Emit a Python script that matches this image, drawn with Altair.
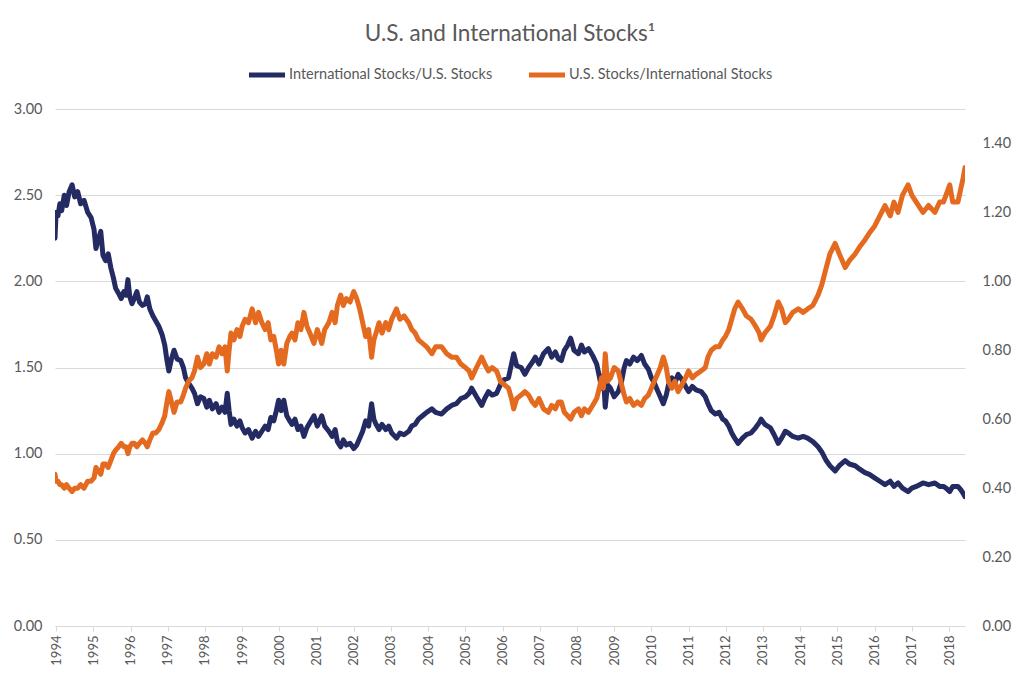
import altair as alt
import pandas as pd

title_text = "U.S. and International Stocks\u00b9"
series_names = ["International Stocks/U.S. Stocks", "U.S. Stocks/International Stocks"]
series_colors = ["#242B63", "#E46A1F"]

years = [
    1993.97, 1994.00, 1994.05, 1994.10, 1994.15, 1994.22, 1994.28, 1994.35, 1994.43, 1994.50,
    1994.58, 1994.66, 1994.75, 1994.85, 1994.94, 1995.02, 1995.07, 1995.13, 1995.20, 1995.26,
    1995.33, 1995.40, 1995.47, 1995.54, 1995.60, 1995.68, 1995.75, 1995.82, 1995.88, 1995.93,
    1995.98, 1996.04, 1996.10, 1996.17, 1996.24, 1996.32, 1996.40, 1996.45, 1996.52, 1996.60,
    1996.68, 1996.76, 1996.85, 1996.92, 1996.98, 1997.03, 1997.10, 1997.17, 1997.25, 1997.35,
    1997.42, 1997.48, 1997.56, 1997.65, 1997.72, 1997.80, 1997.88, 1997.97, 1998.05, 1998.12,
    1998.20, 1998.30, 1998.38, 1998.46, 1998.54, 1998.60, 1998.65, 1998.70, 1998.78, 1998.86,
    1998.94, 1999.00, 1999.08, 1999.17, 1999.27, 1999.36, 1999.44, 1999.53, 1999.62, 1999.70,
    1999.77, 1999.85, 1999.92, 1999.98, 2000.05, 2000.12, 2000.20, 2000.28, 2000.34, 2000.42,
    2000.50, 2000.58, 2000.66, 2000.74, 2000.82, 2000.93, 2001.02, 2001.08, 2001.14, 2001.22,
    2001.33, 2001.42, 2001.50, 2001.56, 2001.65, 2001.72, 2001.80, 2001.90, 2002.00, 2002.08,
    2002.16, 2002.24, 2002.32, 2002.40, 2002.48, 2002.54, 2002.60, 2002.68, 2002.76, 2002.86,
    2002.94, 2003.02, 2003.15, 2003.24, 2003.35, 2003.48, 2003.56, 2003.65, 2003.74, 2003.85,
    2003.96, 2004.10, 2004.20, 2004.36, 2004.50, 2004.63, 2004.76, 2004.88, 2005.00, 2005.10,
    2005.17, 2005.30, 2005.44, 2005.52, 2005.62, 2005.72, 2005.84, 2005.94, 2006.05, 2006.16,
    2006.24, 2006.30, 2006.38, 2006.50, 2006.60, 2006.70, 2006.80, 2006.88, 2006.98, 2007.10,
    2007.23, 2007.32, 2007.42, 2007.50, 2007.58, 2007.66, 2007.75, 2007.83, 2007.92, 2008.04,
    2008.12, 2008.20, 2008.31, 2008.42, 2008.53, 2008.60, 2008.66, 2008.71, 2008.76, 2008.82,
    2008.90, 2009.00, 2009.11, 2009.20, 2009.27, 2009.33, 2009.42, 2009.52, 2009.62, 2009.73,
    2009.82, 2009.92, 2010.00, 2010.08, 2010.16, 2010.24, 2010.32, 2010.40, 2010.46, 2010.55,
    2010.63, 2010.72, 2010.82, 2010.92, 2011.00, 2011.10, 2011.20, 2011.34, 2011.45, 2011.52,
    2011.61, 2011.72, 2011.82, 2011.92, 2011.99, 2012.08, 2012.16, 2012.24, 2012.33, 2012.45,
    2012.55, 2012.68, 2012.80, 2012.90, 2012.95, 2013.05, 2013.20, 2013.30, 2013.41, 2013.50,
    2013.60, 2013.68, 2013.80, 2013.95, 2014.08, 2014.20, 2014.34, 2014.48, 2014.58, 2014.70,
    2014.80, 2014.94, 2015.05, 2015.21, 2015.32, 2015.48, 2015.60, 2015.74, 2015.86, 2016.00,
    2016.14, 2016.28, 2016.42, 2016.52, 2016.63, 2016.75, 2016.90, 2017.00, 2017.12, 2017.30,
    2017.45, 2017.62, 2017.75, 2017.85, 2017.92, 2018.02, 2018.10, 2018.24, 2018.32, 2018.38,
    2018.43,
]

intl_over_us = [
    2.25, 2.40, 2.38, 2.45, 2.41, 2.50, 2.44, 2.52, 2.56, 2.49,
    2.52, 2.45, 2.47, 2.40, 2.37, 2.30, 2.19, 2.24, 2.29, 2.15,
    2.12, 2.16, 2.08, 2.02, 1.96, 1.93, 1.90, 1.94, 1.92, 2.01,
    1.91, 1.87, 1.90, 1.94, 1.88, 1.86, 1.87, 1.91, 1.84, 1.80,
    1.77, 1.74, 1.69, 1.63, 1.54, 1.48, 1.55, 1.60, 1.55, 1.54,
    1.50, 1.44, 1.41, 1.38, 1.35, 1.29, 1.33, 1.32, 1.27, 1.31,
    1.26, 1.29, 1.24, 1.27, 1.24, 1.35, 1.25, 1.17, 1.20, 1.16,
    1.19, 1.15, 1.12, 1.14, 1.09, 1.13, 1.10, 1.13, 1.16, 1.14,
    1.21, 1.19, 1.25, 1.31, 1.25, 1.31, 1.22, 1.19, 1.17, 1.20,
    1.14, 1.16, 1.10, 1.15, 1.18, 1.22, 1.16, 1.19, 1.22, 1.16,
    1.13, 1.10, 1.14, 1.07, 1.04, 1.08, 1.05, 1.06, 1.03, 1.05,
    1.09, 1.13, 1.19, 1.16, 1.29, 1.20, 1.17, 1.14, 1.17, 1.14,
    1.16, 1.12, 1.09, 1.12, 1.11, 1.13, 1.16, 1.17, 1.20, 1.22,
    1.24, 1.26, 1.24, 1.23, 1.26, 1.28, 1.29, 1.32, 1.33, 1.35,
    1.38, 1.33, 1.28, 1.32, 1.36, 1.34, 1.35, 1.40, 1.43, 1.44,
    1.52, 1.58, 1.51, 1.50, 1.46, 1.50, 1.53, 1.56, 1.52, 1.58,
    1.61, 1.56, 1.59, 1.55, 1.54, 1.60, 1.63, 1.67, 1.60, 1.58,
    1.63, 1.59, 1.61, 1.57, 1.52, 1.45, 1.38, 1.45, 1.27, 1.40,
    1.38, 1.33, 1.36, 1.42, 1.50, 1.54, 1.52, 1.56, 1.54, 1.57,
    1.52, 1.49, 1.44, 1.41, 1.37, 1.33, 1.29, 1.34, 1.40, 1.44,
    1.41, 1.46, 1.43, 1.39, 1.36, 1.39, 1.37, 1.36, 1.33, 1.29,
    1.25, 1.23, 1.24, 1.20, 1.19, 1.16, 1.12, 1.09, 1.06, 1.09,
    1.11, 1.12, 1.15, 1.18, 1.20, 1.17, 1.15, 1.11, 1.06, 1.09,
    1.13, 1.12, 1.10, 1.09, 1.10, 1.09, 1.07, 1.04, 1.01, 0.96,
    0.93, 0.90, 0.93, 0.96, 0.94, 0.93, 0.91, 0.89, 0.88, 0.86,
    0.84, 0.82, 0.84, 0.81, 0.83, 0.80, 0.78, 0.80, 0.81, 0.83,
    0.82, 0.83, 0.81, 0.81, 0.80, 0.78, 0.81, 0.81, 0.79, 0.77,
    0.75,
]

us_over_intl = [
    0.44, 0.42, 0.42, 0.41, 0.41, 0.40, 0.41, 0.40, 0.39, 0.40,
    0.40, 0.41, 0.40, 0.42, 0.42, 0.43, 0.46, 0.45, 0.44, 0.47,
    0.47, 0.46, 0.48, 0.50, 0.51, 0.52, 0.53, 0.52, 0.52, 0.50,
    0.52, 0.53, 0.53, 0.52, 0.53, 0.54, 0.53, 0.52, 0.54, 0.56,
    0.56, 0.57, 0.59, 0.61, 0.65, 0.68, 0.65, 0.62, 0.65, 0.65,
    0.67, 0.69, 0.71, 0.72, 0.74, 0.78, 0.75, 0.76, 0.79, 0.76,
    0.79, 0.78, 0.81, 0.79, 0.81, 0.74, 0.80, 0.85, 0.83, 0.86,
    0.84, 0.87, 0.89, 0.88, 0.92, 0.88, 0.91, 0.88, 0.86, 0.88,
    0.83, 0.84, 0.80, 0.76, 0.80, 0.76, 0.82, 0.84, 0.85, 0.83,
    0.88, 0.86, 0.91, 0.87, 0.85, 0.82, 0.86, 0.84, 0.82, 0.86,
    0.88, 0.91, 0.88, 0.93, 0.96, 0.93, 0.95, 0.94, 0.97, 0.95,
    0.92, 0.88, 0.84, 0.86, 0.78, 0.83, 0.85, 0.88, 0.85, 0.88,
    0.86, 0.89, 0.92, 0.89, 0.90, 0.88, 0.86, 0.85, 0.83, 0.82,
    0.81, 0.79, 0.81, 0.81, 0.79, 0.78, 0.78, 0.76, 0.75, 0.74,
    0.72, 0.75, 0.78, 0.76, 0.74, 0.75, 0.74, 0.71, 0.70, 0.69,
    0.66, 0.63, 0.66, 0.67, 0.68, 0.67, 0.65, 0.64, 0.66, 0.63,
    0.62, 0.64, 0.63, 0.65, 0.65, 0.62, 0.61, 0.60, 0.62, 0.63,
    0.61, 0.63, 0.62, 0.64, 0.66, 0.69, 0.72, 0.69, 0.79, 0.71,
    0.72, 0.75, 0.74, 0.70, 0.67, 0.65, 0.66, 0.64, 0.65, 0.64,
    0.66, 0.67, 0.69, 0.71, 0.73, 0.75, 0.78, 0.75, 0.71, 0.69,
    0.71, 0.68, 0.70, 0.72, 0.74, 0.72, 0.73, 0.74, 0.75, 0.78,
    0.80, 0.81, 0.81, 0.83, 0.84, 0.86, 0.89, 0.92, 0.94, 0.92,
    0.90, 0.89, 0.87, 0.85, 0.83, 0.85, 0.87, 0.90, 0.94, 0.92,
    0.88, 0.89, 0.91, 0.92, 0.91, 0.92, 0.93, 0.96, 0.99, 1.04,
    1.08, 1.11, 1.08, 1.04, 1.06, 1.08, 1.10, 1.12, 1.14, 1.16,
    1.19, 1.22, 1.19, 1.23, 1.20, 1.25, 1.28, 1.25, 1.23, 1.20,
    1.22, 1.20, 1.23, 1.23, 1.25, 1.28, 1.23, 1.23, 1.27, 1.30,
    1.33,
]

x_ticks = list(range(1994, 2019))
left_ticks = [0.0, 0.5, 1.0, 1.5, 2.0, 2.5, 3.0]
right_ticks = [0.0, 0.2, 0.4, 0.6, 0.8, 1.0, 1.2, 1.4]

n = min(len(years), len(intl_over_us), len(us_over_intl))
df = pd.DataFrame({
    "t": years[:n] + years[:n],
    "v": intl_over_us[:n] + us_over_intl[:n],
    "s": [series_names[0]] * n + [series_names[1]] * n,
})

FONT = "Lato"
GRAY = "#595959"
LINE = "#d9d9d9"

base = alt.Chart(df).encode(
    x=alt.X(
        "t:Q",
        scale=alt.Scale(domain=[1993.97, 2018.43], nice=False, zero=False),
        axis=alt.Axis(
            values=x_ticks, format="d", labelAngle=270, title=None, grid=False,
            tickSize=5, labelPadding=4, labelFontSize=13,
        ),
    ),
    color=alt.Color(
        "s:N",
        scale=alt.Scale(domain=series_names, range=series_colors),
        legend=alt.Legend(
            title=None, orient="none", legendX=191, legendY=-55,
            direction="horizontal", symbolType="stroke", symbolStrokeWidth=5,
            symbolSize=1300, labelFontSize=14.5, labelColor=GRAY, labelFont=FONT,
            labelLimit=300, columnPadding=25, labelOffset=1,
        ),
    ),
)

left = base.transform_filter(alt.datum.s == series_names[0]).mark_line(
    strokeWidth=5, strokeJoin="round", strokeCap="round", clip=True
).encode(
    y=alt.Y(
        "v:Q",
        scale=alt.Scale(domain=[0, 3], nice=False, zero=True),
        axis=alt.Axis(
            values=left_ticks, format=".2f", orient="left", grid=True, domain=False,
            ticks=False, labelPadding=13, minExtent=42, maxExtent=42, title=None,
            labelFontSize=14.5,
        ),
    )
)

right = base.transform_filter(alt.datum.s == series_names[1]).mark_line(
    strokeWidth=5, strokeJoin="round", strokeCap="round", clip=True
).encode(
    y=alt.Y(
        "v:Q",
        scale=alt.Scale(domain=[0, 1.5], nice=False, zero=True),
        axis=alt.Axis(
            values=right_ticks, format=".2f", orient="right", grid=False, domain=False,
            ticks=False, labelPadding=17, title=None, labelFontSize=14.5,
        ),
    )
)

chart = (
    alt.layer(left, right)
    .resolve_scale(y="independent")
    .properties(
        width=910,
        height=517,
        padding={"left": 5, "top": 14, "right": 5, "bottom": 5},
        title=alt.Title(
            title_text, fontSize=22.5, color=GRAY, font=FONT, fontWeight="normal",
            anchor="middle", frame="group", offset=9,
        ),
        background="white",
    )
    .configure_view(stroke=None)
    .configure_axis(
        labelFont=FONT, labelColor=GRAY, gridColor=LINE, domainColor=LINE,
        tickColor=LINE, gridWidth=1.2,
    )
)

chart.save("out.html", embed_options={"renderer": "svg", "actions": False})
